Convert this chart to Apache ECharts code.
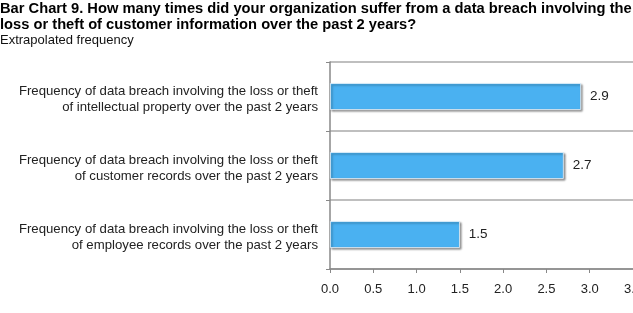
<!DOCTYPE html>
<html><head><meta charset="utf-8">
<script src="https://cdn.jsdelivr.net/npm/echarts@6/dist/echarts.min.js"></script>
<style>html,body{margin:0;padding:0;background:#fff}#c{width:633px;height:313px}</style>
</head><body><div id="c"></div>
<script>
const titleText = 'Bar Chart 9. How many times did your organization suffer from a data breach involving the\nloss or theft of customer information over the past 2 years?';
const subtitleText = 'Extrapolated frequency';
const categories = [
  'Frequency of data breach involving the loss or theft\nof intellectual property over the past 2 years',
  'Frequency of data breach involving the loss or theft\nof customer records over the past 2 years',
  'Frequency of data breach involving the loss or theft\nof employee records over the past 2 years'
];
const values = [2.9, 2.7, 1.5];
const xMin = 0, xMax = 3.5, xStep = 0.5;

const chart = echarts.init(document.getElementById('c'), null, {renderer:'canvas'});
chart.setOption({
  animation: false,
  backgroundColor: '#fff',
  textStyle: {fontFamily: 'Liberation Sans, Arial, sans-serif'},
  title: {
    text: titleText,
    subtext: subtitleText,
    left: 0, top: 1,
    padding: 0,
    itemGap: 0,
    textStyle: {fontSize: 14.7, fontWeight: 'bold', color: '#000', lineHeight: 16, fontFamily: 'Liberation Sans, Arial, sans-serif'},
    subtextStyle: {fontSize: 13, color: '#111', lineHeight: 15, fontFamily: 'Liberation Sans, Arial, sans-serif'}
  },
  grid: {left: 330, right: 0, top: 62, bottom: 44, containLabel: false, outerBoundsMode: 'none'},
  xAxis: {
    type: 'value', min: xMin, max: xMax, interval: xStep,
    axisLine: {show: true, lineStyle: {color: '#888', width: 1.5}},
    axisTick: {show: true, length: 4, lineStyle: {color: '#888'}},
    splitLine: {show: false},
    axisLabel: {margin: 14, fontSize: 13, color: '#222', formatter: v => v.toFixed(1)}
  },
  yAxis: {
    type: 'category', data: categories, inverse: true,
    axisLine: {show: true, lineStyle: {color: '#888', width: 1.5}},
    axisTick: {show: true, length: 4, lineStyle: {color: '#888'}},
    splitLine: {show: true, lineStyle: {color: '#aaa', width: 1.5}},
    axisLabel: {
      margin: 12, fontSize: 13.2, color: '#222', lineHeight: 16, align: 'right',
      formatter: v => { const p = v.split('\n'); return '{a|' + p[0] + '}\n{b|' + p[1] + '}'; },
      rich: {
        a: {fontSize: 13.2, color: '#222', lineHeight: 16, padding: [6, 0, 0, 0], align: 'right'},
        b: {fontSize: 13.2, color: '#222', lineHeight: 16, padding: [6, 0, 0, 0], align: 'right'}
      }
    }
  },
  series: [{
    type: 'bar', data: values, barCategoryGap: '61%',
    itemStyle: {color: '#4AB1F1', borderColor: '#e8f4fc', borderWidth: 0.8,
      shadowColor: 'rgba(0,0,0,0.45)', shadowBlur: 2, shadowOffsetX: 1.5, shadowOffsetY: 1.5},
    label: {show: true, position: 'right', distance: 9, fontSize: 13.5, color: '#222', formatter: p => p.value.toFixed(1)}
  }]
});
</script></body></html>
